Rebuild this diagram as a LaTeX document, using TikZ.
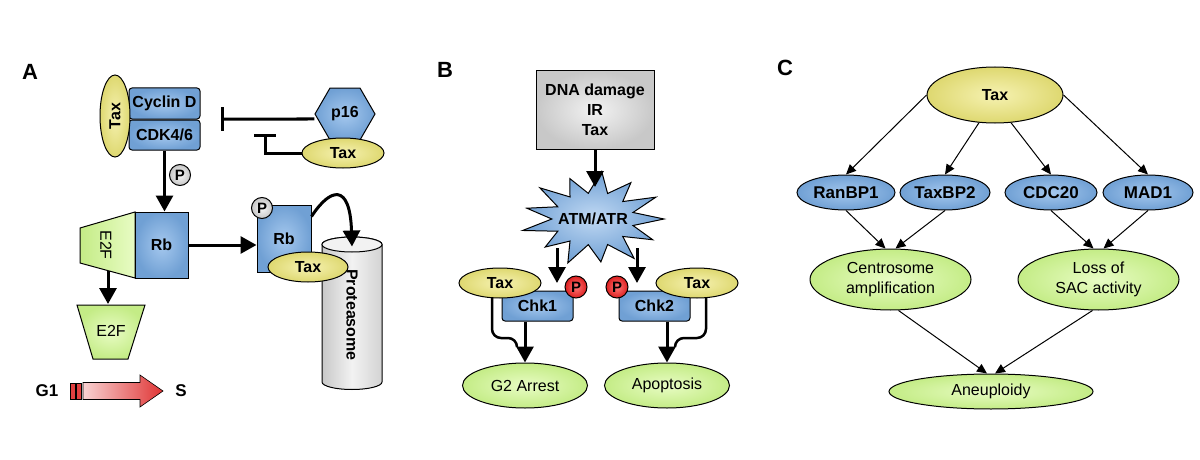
\documentclass[tikz,border=0pt]{standalone}
\usepackage{fontspec}
\setmainfont{Liberation Sans}
\usetikzlibrary{shapes.geometric,arrows.meta}
\definecolor{bl}{RGB}{112,160,212}
\definecolor{blL}{RGB}{165,200,238}
\definecolor{ye}{RGB}{222,216,112}
\definecolor{yeL}{RGB}{246,242,178}
\definecolor{gr}{RGB}{196,236,134}
\definecolor{grL}{RGB}{232,252,196}
\definecolor{gy}{RGB}{200,200,200}
\definecolor{gyL}{RGB}{242,242,242}
\definecolor{rd}{RGB}{220,30,30}
\definecolor{rdL}{RGB}{255,120,120}
\begin{document}
\begin{tikzpicture}[x=1pt,y=-1pt,
  lab/.style={font=\bfseries\fontsize{22}{24}\selectfont},
  bf/.style={font=\bfseries\fontsize{16}{20}\selectfont},
  bfc/.style={font=\bfseries\fontsize{17}{20}\selectfont},
  rg/.style={font=\fontsize{16}{20}\selectfont},
  ol/.style={draw=black,line width=1pt},
  yel/.style={ellipse,ol,inner color=yeL,outer color=ye,bf,inner sep=0pt},
  grn/.style={ellipse,ol,inner color=grL,outer color=gr,rg,inner sep=0pt,align=center},
  bbox/.style={rectangle,rounded corners=3pt,ol,inner color=blL,outer color=bl,bf,inner sep=0pt},
  sqbox/.style={rectangle,ol,inner color=blL,outer color=bl,bf,inner sep=0pt},
  pgr/.style={circle,ol,inner color=gray!5,outer color=gray!45,font=\bfseries\fontsize{15}{16}\selectfont,minimum size=21pt,inner sep=0pt},
  prd/.style={circle,ol,inner color=rdL,outer color=rd,font=\bfseries\fontsize{15}{16}\selectfont,minimum size=22pt,inner sep=0pt},
  thk/.style={line width=3pt,-{Triangle[width=17pt,length=16pt]}},
  tee/.style={line width=3pt},
  thn/.style={line width=1pt,-{Triangle[width=9pt,length=10pt]}},
  blel/.style={ellipse,ol,inner color=blL,outer color=bl,bfc,inner sep=0pt,minimum height=35pt}
]
\useasboundingbox (0,0) rectangle (1200,460);

% ================= Panel A =================
\node[lab] (labA) at (30,72) {A};
\node[bbox,minimum width=71pt,minimum height=31pt] (cyc) at (164.5,103.5) {Cyclin D};
\node[bbox,minimum width=71pt,minimum height=30pt] (cdk) at (164.5,135) {CDK4/6};
\node[yel,rotate=90,minimum width=82pt,minimum height=30pt] (taxA) at (115,116) {Tax};

\node[regular polygon,regular polygon sides=6,minimum size=60pt,ol,inner color=blL,outer color=bl,bf,inner sep=0pt] (p16) at (345,114) {p16};
\node[yel,minimum width=82pt,minimum height=30pt] (taxp) at (343,153) {Tax};
\coordinate (inh1) at (222,119);
\draw[tee] ([yshift=-5pt]p16.west) -- (inh1);
\draw[tee] (222,107) -- (222,131);
\coordinate (inh2) at (265,135);
\draw[tee] (taxp.west) -- (265,153) -- (inh2);
\draw[tee] (254,135) -- (276,135);

% E2F + Rb
\path[ol,left color=gr,right color=grL] (80,228) -- (135,212) -- (135,278) -- (80,263) -- cycle;
\node[rg,rotate=-90] (e2fA) at (106,245) {E2F};
\node[sqbox,minimum width=53pt,minimum height=66pt] (rbA) at (161.5,245) {Rb};
\draw[thk] (cdk.south) -- (cdk.south |- rbA.north);
\node[pgr] (pA) at (180,175) {P};

% proteasome
\coordinate (protTop) at (352,244.5);
\path[ol,left color=gy,right color=gy!80,middle color=gyL] (322,244.5) -- (322,382) arc[start angle=180,end angle=360,x radius=30pt,y radius=7.5pt] -- (382,244.5) arc[start angle=0,end angle=180,x radius=30pt,y radius=7.5pt] -- cycle;
\path[ol,fill=gyL] (protTop) ellipse[x radius=30pt,y radius=7.5pt];
\node[bf,rotate=-90] (prot) at (352,315) {Proteasome};

\node[sqbox,minimum width=54pt,minimum height=67pt] (rbB) at (284,238.5) {Rb};
\node[pgr] (pB) at (262,208) {P};
\node[yel,minimum width=80pt,minimum height=30pt] (taxR) at (308,267) {Tax};
\draw[thk] (rbA.east) -- (rbA.east -| rbB.west);
\draw[thk] ([yshift=-12pt]rbB.north east) .. controls (330,188) and (350,182) .. ([yshift=-2pt]protTop);

% E2F free
\path[ol,inner color=grL,outer color=gr] (77,305) -- (145,305) -- (128,359) -- (93,359) -- cycle;
\node[rg] (e2fB) at (111,331) {E2F};
\coordinate (e2fAbot) at (108,271);
\coordinate (e2fBtop) at (108,304);
\draw[thk] (e2fAbot) -- (e2fBtop);

% G1 -> S
\node[font=\bfseries\fontsize{17}{20}\selectfont] (g1) at (47,391) {G1};
\node[font=\bfseries\fontsize{17}{20}\selectfont] (sS) at (181,391) {S};
\path[draw=black,line width=0.6pt,fill=rd!85] (70,383) rectangle (75,399);
\path[draw=black,line width=0.6pt,fill=rd!85] (76.5,383) rectangle (81.5,399);
\path[draw=black,line width=0.6pt,left color=rd!20,right color=rd!90] (83,382.5) -- (140,382.5) -- (140,375) -- (163,391) -- (140,407) -- (140,399.5) -- (83,399.5) -- cycle;

% ================= Panel B =================
\node[lab] (labB) at (445,70) {B};
\node[rectangle,ol,inner color=gyL,outer color=gy,minimum width=118pt,minimum height=78pt,bf,align=center] (dna) at (595,110) {DNA damage\\IR\\Tax};

\draw[ol,inner color=blL!70!white,outer color=bl] (664,219)
  \foreach \k/\f in {1/0.58,2/0.95,3/0.56,4/1.02,5/0.58,6/0.92,7/0.55,8/1.00,9/0.57,10/0.90,11/0.56,12/1.02,13/0.58,14/0.96,15/0.56,16/1.00,17/0.57,18/0.92,19/0.55,20/1.02,21/0.58,22/0.94,23/0.56,24/1.00,25/0.58}
  { -- ({593+71*\f*cos(\k*13.846)},{219+47*\f*sin(\k*13.846)}) } -- cycle;
\node[bf] (atm) at (593,219) {ATM/ATR};
\coordinate (atmTop) at (595,187);
\draw[thk] (dna.south) -- (atmTop);

\node[bbox,minimum width=71pt,minimum height=30pt] (chk1) at (537.5,306) {Chk1};
\node[bbox,minimum width=71pt,minimum height=30pt] (chk2) at (654.5,306) {Chk2};
\node[yel,minimum width=82pt,minimum height=30pt] (taxB1) at (500,283) {Tax};
\node[yel,minimum width=82pt,minimum height=30pt] (taxB2) at (697,283) {Tax};
\node[prd] (pr1) at (576,287) {P};
\node[prd] (pr2) at (617,287) {P};

\coordinate (s1) at (557,248); \coordinate (e1) at (557,283);
\coordinate (s2) at (637,248); \coordinate (e2) at (637,283);
\draw[thk] (s1) -- (e1);
\draw[thk] (s2) -- (e2);

\node[grn,minimum width=125pt,minimum height=45pt] (g2) at (525,385.5) {G2 Arrest};
\node[grn,minimum width=125pt,minimum height=45pt] (apo) at (667,385.5) {Apoptosis};
\draw[thk] (chk1.south -| g2.north) -- (g2.north);
\draw[thk] (chk2.south -| apo.north) -- (apo.north);
\coordinate (t1) at (492,297);
\coordinate (t2) at (706,297);
\draw[line width=2.5pt,rounded corners=9pt] (t1) -- (492,338) -- (517,338) -- (517,347);
\draw[line width=2.5pt,rounded corners=9pt] (t2) -- (706,338) -- (675,338) -- (675,347);

% ================= Panel C =================
\node[lab] (labC) at (785,68) {C};
\node[yel,minimum width=136pt,minimum height=56pt] (taxC) at (995,95) {Tax};
\node[blel,minimum width=98pt] (ran) at (846,192.5) {RanBP1};
\node[blel,minimum width=90pt] (tbp) at (945,192.5) {TaxBP2};
\node[blel,minimum width=92pt] (cdc) at (1051,192.5) {CDC20};
\node[blel,minimum width=90pt] (mad) at (1148,192.5) {MAD1};
\draw[thn] (taxC.west) -- (ran.north);
\draw[thn] (taxC.240) -- (tbp.north);
\draw[thn] (taxC.300) -- (cdc.north);
\draw[thn] (taxC.east) -- (mad.north);

\node[grn,minimum width=161pt,minimum height=61pt] (cen) at (890.5,279.5) {Centrosome\\amplification};
\node[grn,minimum width=161pt,minimum height=61pt] (sac) at (1098.5,279.5) {Loss of\\SAC activity};
\node[grn,minimum width=204pt,minimum height=35pt] (ane) at (991,391.5) {Aneuploidy};
\draw[thn] (ran.south) -- ([xshift=-5pt]cen.north);
\draw[thn] (tbp.south) -- ([xshift=5pt]cen.north);
\draw[thn] (cdc.south) -- ([xshift=-5pt]sac.north);
\draw[thn] (mad.south) -- ([xshift=5pt]sac.north);
\draw[thn] ([xshift=8pt]cen.south) -- ([xshift=-4pt]ane.north);
\draw[thn] ([xshift=-6pt]sac.south) -- ([xshift=4pt]ane.north);
\end{tikzpicture}
\end{document}
